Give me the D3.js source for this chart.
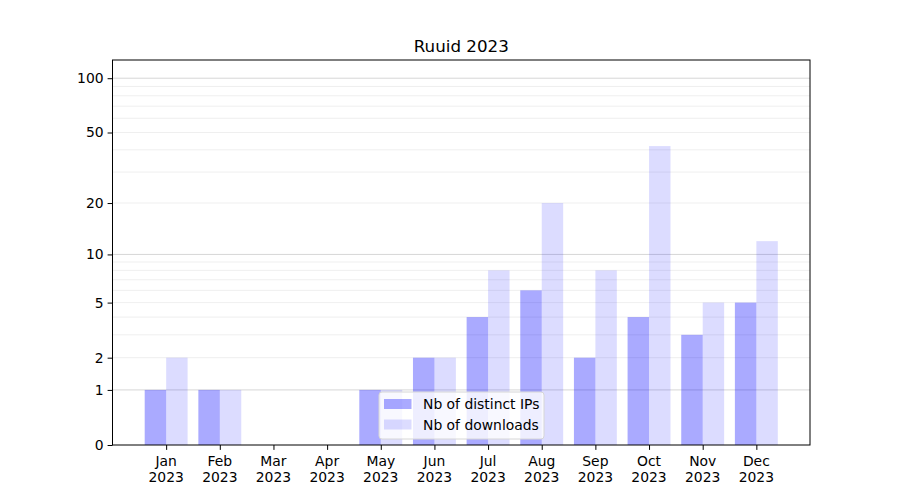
<!DOCTYPE html>
<html><head><meta charset="utf-8">
<script src="https://cdn.jsdelivr.net/npm/d3@7"></script>
<style>body{margin:0;background:#fff}text{font-family:"DejaVu Sans",sans-serif}</style>
</head><body>
<svg id="c" width="900" height="500"></svg>
<script>
const title = "Ruuid 2023";
const months = ["Jan","Feb","Mar","Apr","May","Jun","Jul","Aug","Sep","Oct","Nov","Dec"];
const yearLabel = "2023";
const distinctIPs = [1,1,0,0,1,2,4,6,2,4,3,5];
const downloads = [2,1,0,0,1,2,8,20,8,42,5,12];
const yTicks = [0,1,2,5,10,20,50,100];
const majorGrid = [1,10,100];
const minorGrid = [2,3,4,5,6,7,8,9,20,30,40,50,60,70,80,90];
const seriesNames = ["Nb of distinct IPs","Nb of downloads"];
const yMax = 126;

const svg = d3.select("#c");
const L=112.5, R=810, T=60, B=445;
const x = d3.scaleLinear().domain([-1, months.length]).range([L, R]);
const y = d3.scaleSymlog().constant(1).domain([0, yMax]).range([B, T]);
const step = x(1)-x(0), bw = step*0.4;

const g = svg.append("g");
g.selectAll(".mi").data(minorGrid).join("line")
  .attr("x1",L).attr("x2",R).attr("y1",d=>y(d)).attr("y2",d=>y(d))
  .attr("stroke","#ebebeb").attr("stroke-width",0.8);
g.selectAll(".ma").data(majorGrid).join("line")
  .attr("x1",L).attr("x2",R).attr("y1",d=>y(d)).attr("y2",d=>y(d))
  .attr("stroke","#cccccc").attr("stroke-width",0.8);

g.selectAll(".b1").data(distinctIPs).join("rect")
  .attr("x",(d,i)=>x(i)-bw).attr("width",bw)
  .attr("y",d=>y(d)).attr("height",d=>B-y(d))
  .attr("fill","blue").attr("fill-opacity",0.333);
g.selectAll(".b2").data(downloads).join("rect")
  .attr("x",(d,i)=>x(i)).attr("width",bw)
  .attr("y",d=>y(d)).attr("height",d=>B-y(d))
  .attr("fill","blue").attr("fill-opacity",0.137);

// axes frame
svg.append("rect").attr("x",L).attr("y",T).attr("width",R-L).attr("height",B-T)
  .attr("fill","none").attr("stroke","#000").attr("stroke-width",1);

const yAxis = svg.append("g").attr("transform",`translate(${L},0)`)
  .call(d3.axisLeft(y).tickValues(yTicks).tickFormat(d3.format("d")).tickSize(4.9).tickPadding(4));
yAxis.select(".domain").remove();
yAxis.selectAll("text").attr("font-size","13.9px").attr("fill","#000").attr("font-family","DejaVu Sans");

const xAxis = svg.append("g").attr("transform",`translate(0,${B})`)
  .call(d3.axisBottom(x).tickValues(d3.range(months.length)).tickFormat("").tickSize(4.9));
xAxis.select(".domain").remove();
const lab = svg.append("g");
months.forEach((m,i)=>{
  const t = lab.append("text").attr("x",x(i)).attr("y",B+21).attr("text-anchor","middle")
    .attr("font-size","13.9px").attr("fill","#000");
  t.append("tspan").attr("x",x(i)).text(m);
  t.append("tspan").attr("x",x(i)).attr("dy","16").text(yearLabel);
});

svg.append("text").attr("x",(L+R)/2).attr("y",T-8).attr("text-anchor","middle")
  .attr("font-size","16.7px").attr("fill","#000").text(title);

// legend
const lg = svg.append("g");
lg.append("rect").attr("x",379).attr("y",392).attr("width",165).attr("height",47).attr("rx",3)
  .attr("fill","#fff").attr("fill-opacity",0.8).attr("stroke","#d6d6d6").attr("stroke-width",1);
const ops=[0.333,0.137];
seriesNames.forEach((s,i)=>{
  const cy = 404 + i*20.5;
  lg.append("rect").attr("x",384).attr("y",cy-5).attr("width",27.5).attr("height",10)
    .attr("fill","blue").attr("fill-opacity",ops[i]);
  lg.append("text").attr("x",423).attr("y",cy+5).attr("font-size","13.9px").attr("fill","#000").text(s);
});
</script>
</body></html>
